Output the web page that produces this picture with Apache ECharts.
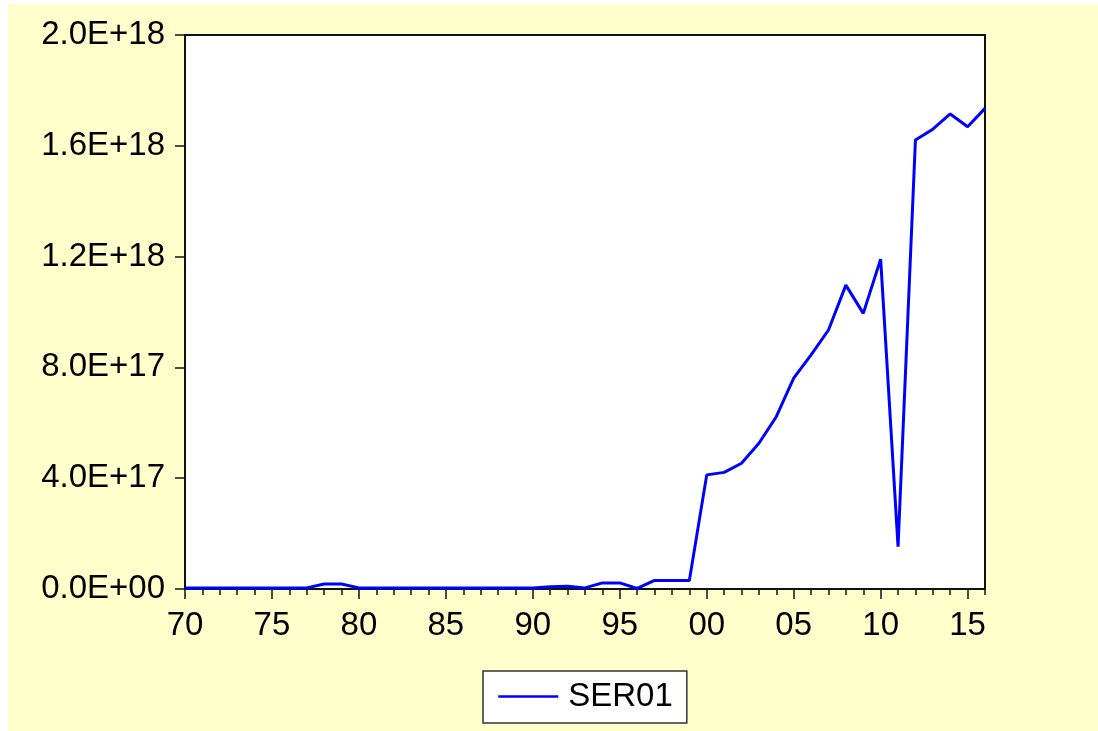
<!DOCTYPE html>
<html>
<head>
<meta charset="utf-8">
<script src="https://cdn.jsdelivr.net/npm/echarts@6/dist/echarts.min.js"></script>
<style>
  html, body { margin: 0; padding: 0; background: #ffffff; }
  #chart { position: absolute; left: 8px; top: 4px; width: 1090px; height: 727px; }
</style>
</head>
<body>
<div id="chart"></div>
<script>
// ---- data ----
const years = [
  1970, 1971, 1972, 1973, 1974, 1975, 1976, 1977, 1978, 1979,
  1980, 1981, 1982, 1983, 1984, 1985, 1986, 1987, 1988, 1989,
  1990, 1991, 1992, 1993, 1994, 1995, 1996, 1997, 1998, 1999,
  2000, 2001, 2002, 2003, 2004, 2005, 2006, 2007, 2008, 2009,
  2010, 2011, 2012, 2013, 2014, 2015, 2016
];
const ser01 = [
  4e15, 4e15, 4e15, 4e15, 4e15, 4e15, 4e15, 4e15, 1.8e16, 1.8e16,
  4e15, 4e15, 4e15, 4e15, 4e15, 4e15, 4e15, 4e15, 4e15, 4e15,
  4e15, 8e15, 1.0e16, 4e15, 2.2e16, 2.2e16, 2e15, 3.1e16, 3.1e16, 3.1e16,
  4.12e17, 4.21e17, 4.54e17, 5.26e17, 6.22e17, 7.61e17, 8.45e17, 9.35e17, 1.097e18, 9.95e17,
  1.191e18, 1.53e17, 1.621e18, 1.66e18, 1.715e18, 1.669e18, 1.735e18
];
const majorYears = [1970, 1975, 1980, 1985, 1990, 1995, 2000, 2005, 2010, 2015];
const yTicks = [0, 4e17, 8e17, 1.2e18, 1.6e18, 2e18];
const seriesName = 'SER01';

function sci(v) {
  if (v === 0) return '0.0E+00';
  let e = Math.floor(Math.log10(v) + 1e-9);
  let m = v / Math.pow(10, e);
  if (m >= 9.95) { m /= 10; e += 1; }
  const es = (e < 10 ? '0' : '') + e;
  return m.toFixed(1) + 'E+' + es;
}

const FONT = 'Liberation Sans, Arial, sans-serif';
const FS = 33;
const INK = '#000000';

const chart = echarts.init(document.getElementById('chart'), null, { renderer: 'canvas' });
chart.setOption({
  backgroundColor: '#FFFFCC',
  animation: false,
  grid: {
    left: 177, top: 31, width: 800, height: 554,
    show: true, backgroundColor: '#ffffff', borderColor: '#111111', borderWidth: 2
  },
  legend: {
    data: [seriesName],
    left: 475, top: 667,
    orient: 'horizontal',
    padding: [9, 14, 10, 14],
    itemWidth: 60, itemHeight: 36,
    itemStyle: { opacity: 0 },
    lineStyle: { width: 2.5 },
    backgroundColor: '#ffffff',
    borderColor: '#333333', borderWidth: 1.5, borderRadius: 0,
    textStyle: { fontFamily: FONT, fontSize: FS, color: INK, padding: [0, 0, 0, 5] }
  },
  xAxis: [
    {
      type: 'value', min: 1970, max: 2016, interval: 1,
      axisLine: { show: true, lineStyle: { color: '#111111', width: 2 } },
      axisTick: { show: true, inside: false, length: 6, lineStyle: { color: '#111111', width: 1.5 } },
      axisLabel: { show: false },
      splitLine: { show: false }
    },
    {
      type: 'value', min: 1970, max: 2016, interval: 5, position: 'bottom',
      axisLine: { show: false },
      axisTick: { show: true, inside: false, length: 10, customValues: majorYears,
                  lineStyle: { color: '#111111', width: 1.5 } },
      axisLabel: {
        show: true, margin: 20, customValues: majorYears,
        fontFamily: FONT, fontSize: FS, color: INK,
        formatter: function (v) { return String(v % 100).padStart(2, '0'); }
      },
      splitLine: { show: false }
    }
  ],
  yAxis: {
    type: 'value', min: 0, max: 2e18, interval: 4e17,
    axisLine: { show: true, lineStyle: { color: '#111111', width: 2 } },
    axisTick: { show: true, inside: false, length: 10, lineStyle: { color: '#111111', width: 1.5 } },
    axisLabel: {
      show: true, margin: 20, customValues: yTicks,
      fontFamily: FONT, fontSize: FS, color: INK,
      formatter: function (v) { return sci(v); }
    },
    splitLine: { show: false }
  },
  series: [{
    name: seriesName,
    type: 'line',
    xAxisIndex: 0,
    data: years.map((y, i) => [y, ser01[i]]),
    showSymbol: false,
    symbol: 'none',
    lineStyle: { color: '#0000FF', width: 3 },
    itemStyle: { color: '#0000FF' }
  }]
});
</script>
</body>
</html>
